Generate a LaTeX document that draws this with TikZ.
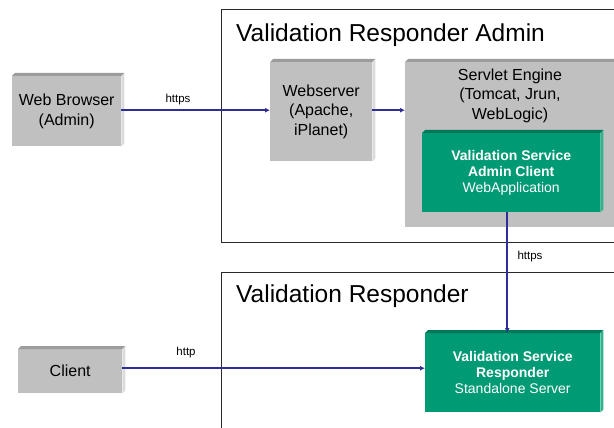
\documentclass[tikz,border=0pt]{standalone}
\usepackage{fontspec}
\setmainfont{Liberation Sans}
\usetikzlibrary{arrows.meta}
\definecolor{boxgray}{HTML}{C0C0C0}
\definecolor{boxgraytop}{HTML}{9C9C9C}
\definecolor{boxgrayside}{HTML}{DCDCDC}
\definecolor{boxgreen}{HTML}{009A74}
\definecolor{boxgreentop}{HTML}{007857}
\definecolor{boxgreenside}{HTML}{2FB48C}
\definecolor{arrblue}{HTML}{2E2E96}
\definecolor{framecol}{HTML}{2A2A2A}
\newcommand{\bevelbox}[3]{%
  \fill[#2] (#1.north west) -- ([shift={(3pt,3pt)}]#1.north west) -- ([shift={(3pt,3pt)}]#1.north east) -- (#1.north east) -- cycle;
  \fill[#3] (#1.north east) -- ([shift={(3pt,3pt)}]#1.north east) -- ([shift={(3pt,3pt)}]#1.south east) -- (#1.south east) -- cycle;}
\tikzset{
  graybox/.style={fill=boxgray, inner sep=0pt, anchor=north west, align=center,
    font=\fontsize{16}{19.5}\selectfont},
  greenbox/.style={fill=boxgreen, inner sep=0pt, anchor=north west, align=center,
    text=white, font=\fontsize{14}{16}\selectfont},
  frame/.style={draw=framecol, line width=1pt},
  title/.style={anchor=base west, inner sep=0pt, font=\fontsize{24.5}{28}\selectfont},
  arr/.style={draw=arrblue, line width=1.8pt, -{Latex[length=5pt,width=5pt]}},
  lbl/.style={inner sep=0pt, font=\fontsize{11.5}{13}\selectfont}
}
\begin{document}
\begin{tikzpicture}[x=1pt,y=-1pt]
\useasboundingbox (0,0) rectangle (614,428);
\clip (0,0) rectangle (614,428);
\fill[white] (0,0) rectangle (614,428);

% outer frames
\draw[frame] (630,10) -- (221,10) -- (221,242) -- (630,242);
\draw[frame] (630,272) -- (221,272) -- (221,440);
\node[title] (t1) at (236,42) {Validation Responder Admin};
\node[title] (t2) at (236,302) {Validation Responder};

% gray boxes
\node[graybox, minimum width=109pt, minimum height=70pt] (browser) at (12,76) {Web Browser\\(Admin)};
\bevelbox{browser}{boxgraytop}{boxgrayside}
\node[graybox, minimum width=102pt, minimum height=99pt] (webserver) at (270,62) {Webserver\\(Apache,\\iPlanet)};
\bevelbox{webserver}{boxgraytop}{boxgrayside}
\node[graybox, minimum width=220pt, minimum height=165pt] (servlet) at (405,62) {};
\bevelbox{servlet}{boxgraytop}{boxgrayside}
\node[anchor=north, inner sep=0pt, align=center, font=\fontsize{16}{19.5}\selectfont] (servlettext) at (510,68.5) {Servlet Engine\\(Tomcat, Jrun,\\WebLogic)};
\node[graybox, minimum width=104pt, minimum height=44pt] (client) at (18,349) {Client};
\bevelbox{client}{boxgraytop}{boxgrayside}

% green boxes
\node[greenbox, minimum width=178pt, minimum height=79pt] (adminc) at (422,133) {\textbf{Validation Service}\\\textbf{Admin Client}\\WebApplication};
\bevelbox{adminc}{boxgreentop}{boxgreenside}
\node[greenbox, minimum width=175pt, minimum height=79pt] (resp) at (425,333) {\textbf{Validation Service}\\\textbf{Responder}\\Standalone Server};
\bevelbox{resp}{boxgreentop}{boxgreenside}

% connectors
\draw[arr] ([yshift=1pt]browser.east) -- ([yshift=1pt]browser.east -| webserver.west);
\draw[arr] ([yshift=1.5pt]webserver.east) -- ([yshift=1.5pt]webserver.east -| servlet.west);
\draw[arr] ([xshift=-4pt]adminc.south) -- ([xshift=-4pt]adminc.south |- resp.north);
\draw[arr] ([yshift=3pt]client.east) -- ([yshift=3pt]client.east -| resp.west);

% labels
\node[lbl] (l1) at (178,100) {https};
\node[lbl] (l2) at (186,353) {http};
\node[lbl] (l3) at (530,257) {https};
\end{tikzpicture}
\end{document}
